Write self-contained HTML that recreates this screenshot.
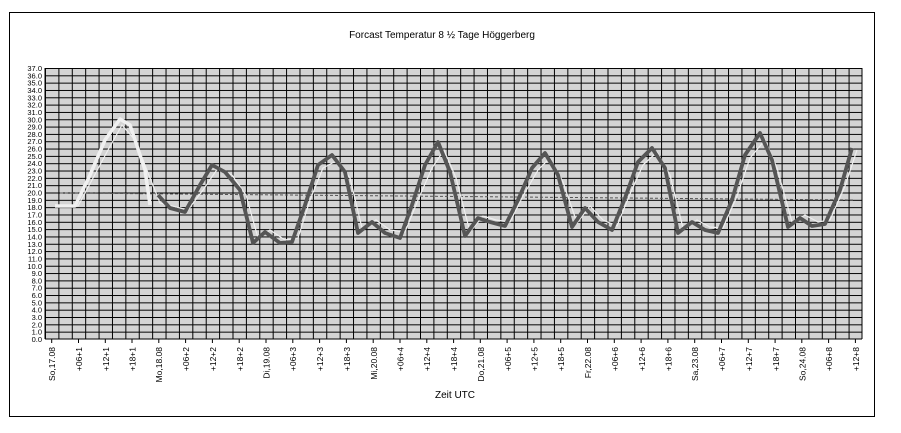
<!DOCTYPE html>
<html><head><meta charset="utf-8"><style>
html,body{margin:0;padding:0;background:#fff;}
svg{display:block;font-family:"Liberation Sans",Arial,sans-serif;}
.y{font-size:7.5px;text-anchor:end;}
.x{font-size:8.5px;text-anchor:end;}
</style></head><body>
<svg width="901" height="433" viewBox="0 0 901 433">
<defs>
<pattern id="g" x="45" y="68" width="13.393" height="7.324" patternUnits="userSpaceOnUse">
<rect width="13.393" height="7.324" fill="#d4d4d4"/>
<path d="M0 0.5H13.393M0.5 0V7.324" stroke="#000" stroke-width="1.2" fill="none" shape-rendering="crispEdges"/>
</pattern>
</defs>
<rect x="9.5" y="12.5" width="865" height="404" fill="#fff" stroke="#000" stroke-width="1"/>
<text x="442" y="38" font-size="10" text-anchor="middle">Forcast Temperatur 8 ½ Tage Höggerberg</text>
<rect x="45" y="68" width="817" height="271" fill="url(#g)"/>
<path d="M45 339H862M862 68V339" stroke="#000" stroke-width="1"/>
<path d="M45 68V339" stroke="#000" stroke-width="1"/>
<g stroke="#000">
<path d="M51.7 339v4M78.5 339v4M105.3 339v4M132 339v4M158.8 339v4M185.6 339v4M212.4 339v4M239.2 339v4M266 339v4M292.8 339v4M319.6 339v4M346.4 339v4M373.2 339v4M400 339v4M426.8 339v4M453.6 339v4M480.3 339v4M507.1 339v4M533.9 339v4M560.7 339v4M587.5 339v4M614.3 339v4M641.1 339v4M667.9 339v4M694.7 339v4M721.5 339v4M748.3 339v4M775.1 339v4M801.8 339v4M828.6 339v4M855.4 339v4"/>
</g>
<g class="y">
<text x="42" y="71">37.0</text><text x="42" y="78.3">36.0</text><text x="42" y="85.6">35.0</text><text x="42" y="93">34.0</text><text x="42" y="100.3">33.0</text><text x="42" y="107.6">32.0</text><text x="42" y="114.9">31.0</text><text x="42" y="122.3">30.0</text><text x="42" y="129.6">29.0</text><text x="42" y="136.9">28.0</text><text x="42" y="144.2">27.0</text><text x="42" y="151.6">26.0</text><text x="42" y="158.9">25.0</text><text x="42" y="166.2">24.0</text><text x="42" y="173.5">23.0</text><text x="42" y="180.9">22.0</text><text x="42" y="188.2">21.0</text><text x="42" y="195.5">20.0</text><text x="42" y="202.8">19.0</text><text x="42" y="210.2">18.0</text><text x="42" y="217.5">17.0</text><text x="42" y="224.8">16.0</text><text x="42" y="232.1">15.0</text><text x="42" y="239.5">14.0</text><text x="42" y="246.8">13.0</text><text x="42" y="254.1">12.0</text><text x="42" y="261.4">11.0</text><text x="42" y="268.8">10.0</text><text x="42" y="276.1">9.0</text><text x="42" y="283.4">8.0</text><text x="42" y="290.7">7.0</text><text x="42" y="298.1">6.0</text><text x="42" y="305.4">5.0</text><text x="42" y="312.7">4.0</text><text x="42" y="320">3.0</text><text x="42" y="327.4">2.0</text><text x="42" y="334.7">1.0</text><text x="42" y="342">0.0</text>
</g>
<g class="x">
<text transform="translate(55,347) rotate(-90)">So,17.08</text>
<text transform="translate(82,347) rotate(-90)">+06+1</text>
<text transform="translate(109,347) rotate(-90)">+12+1</text>
<text transform="translate(135.5,347) rotate(-90)">+18+1</text>
<text transform="translate(162,347) rotate(-90)">Mo,18.08</text>
<text transform="translate(189,347) rotate(-90)">+06+2</text>
<text transform="translate(216,347) rotate(-90)">+12+2</text>
<text transform="translate(243,347) rotate(-90)">+18+2</text>
<text transform="translate(269.5,347) rotate(-90)">Di,19.08</text>
<text transform="translate(296,347) rotate(-90)">+06+3</text>
<text transform="translate(323,347) rotate(-90)">+12+3</text>
<text transform="translate(350,347) rotate(-90)">+18+3</text>
<text transform="translate(377,347) rotate(-90)">Mi,20.08</text>
<text transform="translate(403.5,347) rotate(-90)">+06+4</text>
<text transform="translate(430,347) rotate(-90)">+12+4</text>
<text transform="translate(457,347) rotate(-90)">+18+4</text>
<text transform="translate(484,347) rotate(-90)">Do,21.08</text>
<text transform="translate(511,347) rotate(-90)">+06+5</text>
<text transform="translate(537.5,347) rotate(-90)">+12+5</text>
<text transform="translate(564,347) rotate(-90)">+18+5</text>
<text transform="translate(591,347) rotate(-90)">Fr,22.08</text>
<text transform="translate(618,347) rotate(-90)">+06+6</text>
<text transform="translate(645,347) rotate(-90)">+12+6</text>
<text transform="translate(671.5,347) rotate(-90)">+18+6</text>
<text transform="translate(698,347) rotate(-90)">Sa,23.08</text>
<text transform="translate(725,347) rotate(-90)">+06+7</text>
<text transform="translate(752,347) rotate(-90)">+12+7</text>
<text transform="translate(779,347) rotate(-90)">+18+7</text>
<text transform="translate(805.5,347) rotate(-90)">So,24.08</text>
<text transform="translate(832,347) rotate(-90)">+06+8</text>
<text transform="translate(859,347) rotate(-90)">+12+8</text>
</g>
<text x="455" y="398" font-size="10" text-anchor="middle">Zeit UTC</text>
<path d="M60 193L855 200" stroke="#555" stroke-width="1" stroke-dasharray="3,2" fill="none"/>
<polyline fill="none" stroke="#eee" stroke-width="1.2" points="55,206 78,206 92,180 108,150 122,125 135,140 150,178 160,203 172,206 188,210 203,190 218,168 232,175 246,195 258,238 270,230 285,240 298,238 310,200 323,168 338,160 350,178 362,228 376,220 390,230 405,232 418,200 432,168 444,150 456,178 470,232 483,216 496,220 510,222 523,196 538,170 550,158 563,182 577,223 590,206 603,220 617,226 630,194 643,165 657,152 670,175 683,228 697,220 710,227 723,228 737,196 750,158 765,140 777,168 792,222 805,215 818,222 830,220 845,186 857,150"/>
<polyline fill="none" stroke="#f0f0f0" stroke-width="3.5" stroke-linejoin="round" points="55,206 75,206 90,175 105,140 120,119 130,125 145,170 150,205"/>
<polyline fill="none" stroke="#555" stroke-width="3.8" stroke-linejoin="round" points="158,195 170,208 185,212 200,185 212,165 225,172 240,190 253,243 265,232 280,243 292,242 305,205 318,165 332,155 345,172 358,233 372,222 385,233 400,238 412,205 425,165 438,142 450,172 465,236 478,218 490,222 505,226 518,200 532,168 545,153 558,175 572,227 585,208 598,222 612,230 625,198 638,162 652,148 665,168 678,233 692,222 705,230 718,233 732,200 745,155 760,133 772,160 788,227 800,218 812,226 825,224 840,190 852,148"/>
</svg>
</body></html>
